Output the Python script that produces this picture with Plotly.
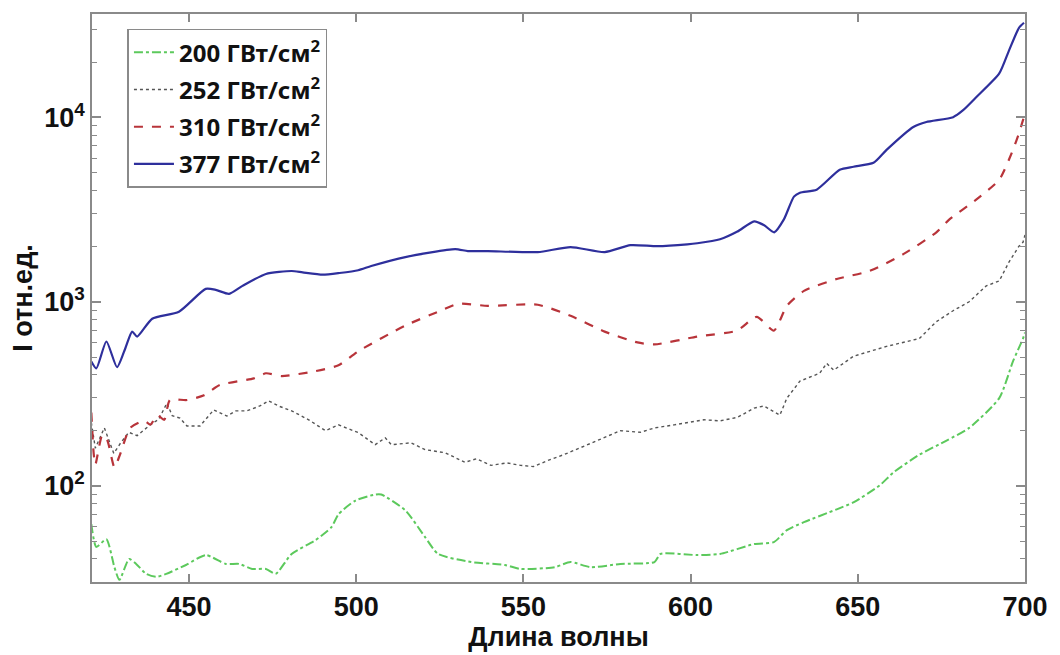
import plotly.graph_objects as go

# Emission spectra at four pump intensities (wavelength, nm -> intensity, rel. units)
wl_377 = [420.8, 422.3, 425.3, 428.5, 431, 433, 434.5, 439, 447, 455, 458, 462, 466, 473,
          480.7, 484, 490, 495, 500.6, 504.5, 514.7, 529.6, 533.4, 539.4, 554.3, 564.1,
          574.3, 582, 590, 599, 602, 608.8, 614, 619, 622, 625, 627.9, 630.9, 632.7, 637.7,
          644.6, 648.7, 654.7, 658.6, 666.6, 670.5, 678.5, 681.5, 685.4, 692.3, 695.2,
          698.2, 699.7]
i_377 = [473, 434, 607, 440, 560, 687, 646, 807, 881, 1172, 1158, 1102, 1217, 1413,
         1466, 1440, 1400, 1430, 1480, 1560, 1745, 1928, 1880, 1880, 1857, 1977,
         1857, 2025, 2000, 2046, 2074, 2180, 2400, 2730, 2600, 2378, 2795, 3715, 3905, 4055,
         5200, 5400, 5670, 6670, 8880, 9450, 10040, 10950, 12870, 17340, 23080,
         30700, 32700]

wl_310 = [420.8, 421.5, 422, 424.1, 425.6, 427.7, 429.4, 432.4, 436.6, 438.5, 440.5, 442.6,
          444.3, 449.4, 454.5, 459.2, 469.4, 473, 477.7, 487.8, 494.7, 500.6, 514.7, 524.5,
          530.5, 539.4, 554.3, 564.1, 574.3, 584.1, 589.2, 602, 613.9, 619.8, 624.9, 628.8,
          633.9, 643.7, 653.5, 663.6, 673.5, 677.4, 685.4, 692.3, 696.4, 698.2, 699.4, 700]
i_310 = [250, 150, 130, 189, 176, 126, 148, 206, 225, 215, 242, 228,
         292, 292, 310, 352, 383, 408, 394, 419, 451, 537, 741, 881,
         973, 948, 961, 837, 687, 600, 585, 646, 696, 827, 696, 948,
         1143, 1327, 1466, 1810, 2378, 2795, 3580, 4590, 6670, 8220, 9670, 10500]

wl_252 = [420.8, 422, 424.7, 427.5, 429.5, 432, 434.5, 438.4, 441, 443.4, 445, 447.3, 449.4,
          453.3, 457.4, 461.3, 464, 467.3, 471.2, 473.8, 477, 480.7, 485.8, 490.8, 494.7,
          500.7, 505.7, 508.7, 510.5, 516.4, 520.6, 526.6, 532.5, 536, 540.3, 545, 549.2,
          553, 557.3, 562.3, 569.2, 574.3, 579, 585, 589.2, 595.1, 604, 608.8, 614, 619,
          621.9, 626.7, 628.8, 632.7, 638.6, 640.7, 642.8, 648.7, 658.6, 668.4, 673.5,
          678.5, 683.3, 688.4, 692.3, 695.2, 698.2, 699.4, 700]
i_252 = [220, 160, 206, 150, 170, 195, 187, 214, 230, 281, 240, 233, 211,
         211, 258, 239, 255, 255, 271, 289, 270, 255, 228, 199, 214,
         194, 167, 182, 167, 171, 157, 151, 134, 140, 129, 133, 129,
         127, 137, 148, 167, 182, 199, 195, 206, 214, 228, 225, 235, 264,
         271, 242, 299, 370, 408, 462, 424, 505, 571, 630, 778,
         892, 998, 1217, 1295, 1638, 2000, 2100, 2300]

wl_200 = [420.8, 422.3, 425.3, 427.7, 429.2, 432.1, 434.2, 437.2, 440.2, 443.2, 449.1, 455,
          461, 465, 468.9, 473, 475.9, 480.7, 487.8, 492.6, 494.7, 499.8, 505.7, 507.5,
          514.7, 520.6, 524.5, 534.4, 544.5, 549.2, 559.4, 564.1, 570.1, 579, 589.2, 591,
          602, 608.8, 619, 624.9, 628.8, 633.9, 643.7, 648.7, 656.5, 660.6, 668.4, 676.4,
          683.3, 692.3, 696.4, 699.4, 700]
i_200 = [61.8, 46.5, 51.2, 36.1, 30.8, 40.0, 37.6, 33.2, 32.0, 33.2, 37.1, 42.0,
         37.6, 37.6, 35.3, 35.3, 33.2, 42.6, 50.6, 59.5, 70.0, 83.1, 89.6, 89.6,
         73.5, 52.6, 42.6, 38.5, 37.1, 35.3, 36.1, 38.5, 36.1, 37.6, 38.5, 42.6,
         42.0, 42.6, 48.2, 49.4, 57.4, 63.4, 74.4, 81.2, 100.2, 117.8, 147.3, 175.3,
         206, 299, 473, 630, 680]

legend_names = ["200 ГВт/см<sup>2</sup>", "252 ГВт/см<sup>2</sup>",
                "310 ГВт/см<sup>2</sup>", "377 ГВт/см<sup>2</sup>"]

x_ticks = [450, 500, 550, 600, 650, 700]
y_major = [100, 1000, 10000]
y_major_text = ["10<sup>2</sup>", "10<sup>3</sup>", "10<sup>4</sup>"]
y_minor = [30, 40, 50, 60, 70, 80, 90, 200, 300, 400, 500, 600, 700, 800, 900,
           2000, 3000, 4000, 5000, 6000, 7000, 8000, 9000, 20000, 30000]

series = [
    (wl_200, i_200, legend_names[0], dict(color="#5cc95c", width=2, dash="dashdot", shape="spline", smoothing=0.6)),
    (wl_252, i_252, legend_names[1], dict(color="#555555", width=1.4, dash="dot")),
    (wl_310, i_310, legend_names[2], dict(color="#b8343a", width=2.2, dash="dash", shape="spline", smoothing=0.6)),
    (wl_377, i_377, legend_names[3], dict(color="#2e2f9c", width=2.2, shape="spline", smoothing=0.6)),
]

fig = go.Figure()
for k, (xs, ys, name, line) in enumerate(series):
    fig.add_trace(go.Scatter(x=xs, y=ys, name=name, mode="lines", line=line,
                             legendgroup=f"g{k}"))

axis_font = dict(family="Liberation Sans, Arial", size=27, color="#111111", weight="bold")
frame = "#8a8a8a"

fig.update_layout(
    width=1060, height=655,
    margin=dict(l=92, r=31, t=13, b=70),
    paper_bgcolor="white", plot_bgcolor="white",
    showlegend=True,
    legend=dict(
        x=0.038, y=0.974, xanchor="left", yanchor="top",
        bgcolor="white", bordercolor=frame, borderwidth=1.5,
        font=dict(family="Noto Sans, Open Sans", size=24, color="#111111", weight="bold"),
        itemwidth=40, tracegroupgap=3, traceorder="grouped",
    ),
    xaxis=dict(
        range=[421, 700], tickvals=x_ticks, ticks="inside", ticklen=8, tickwidth=1.5,
        tickcolor=frame, showline=True, linecolor=frame, linewidth=1.5, mirror="ticks",
        showgrid=False, zeroline=False, tickfont=axis_font,
        title=dict(text="Длина волны", font=axis_font, standoff=2),
    ),
    yaxis=dict(
        type="log", range=[1.477, 4.562], tickvals=y_major, ticktext=y_major_text,
        ticks="inside", ticklen=9, tickwidth=1.5, tickcolor=frame,
        minor=dict(tickvals=y_minor, ticks="inside", ticklen=5, tickwidth=1, tickcolor=frame,
                   showgrid=False),
        showline=True, linecolor=frame, linewidth=1.5, mirror="ticks",
        showgrid=False, zeroline=False, tickfont=axis_font,
        title=dict(text="I отн.ед.", font=axis_font, standoff=4),
    ),
)

fig.write_html("out.html")
